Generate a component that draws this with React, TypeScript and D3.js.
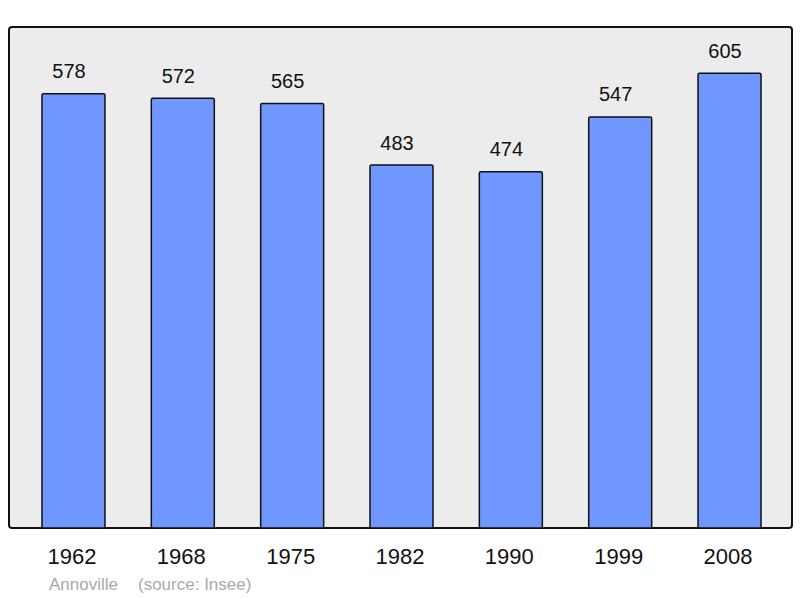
import { useEffect, useRef } from 'react';
import * as d3 from 'd3';

const years = ['1962', '1968', '1975', '1982', '1990', '1999', '2008'];
const population = [578, 572, 565, 483, 474, 547, 605];
const townName = 'Annoville';
const sourceNote = '(source: Insee)';

export default function App() {
  const svgRef = useRef<SVGSVGElement>(null);

  useEffect(() => {
    if (!svgRef.current) return;
    const svg = d3.select(svgRef.current);
    svg.selectAll('*').remove();

    const font = '"Liberation Sans", Arial, sans-serif';

    // panel background
    svg.append('rect')
      .attr('x', 9).attr('y', 27)
      .attr('width', 783).attr('height', 501)
      .attr('rx', 3)
      .attr('fill', '#ececec')
      .attr('stroke', '#111')
      .attr('stroke-width', 2);

    const x = d3.scaleBand<string>()
      .domain(years)
      .range([18.8, 784.2])
      .paddingInner(0.424)
      .paddingOuter(0.212);

    const y = d3.scaleLinear()
      .domain([0, 666.7])
      .range([528, 27]);

    const data = years.map((yr, i) => ({ yr, v: population[i] }));
    const mid = (yr: string) => (x(yr) || 0) + x.bandwidth() / 2;

    svg.selectAll('.bar')
      .data(data)
      .enter().append('rect')
      .attr('class', 'bar')
      .attr('x', d => x(d.yr) || 0)
      .attr('y', d => y(d.v))
      .attr('width', x.bandwidth())
      .attr('height', d => y(0) - y(d.v))
      .attr('rx', 1.5)
      .attr('fill', '#7096ff')
      .attr('stroke', '#111')
      .attr('stroke-width', 1.5);

    // value labels (sit slightly left of bar centre in the original)
    svg.selectAll('.val')
      .data(data)
      .enter().append('text')
      .attr('class', 'val')
      .attr('x', d => mid(d.yr) - 4.5)
      .attr('y', d => y(d.v) - 15.5)
      .attr('text-anchor', 'middle')
      .attr('font-family', font)
      .attr('font-size', 20)
      .attr('fill', '#111')
      .text(d => d.v);

    // year labels
    svg.selectAll('.yr')
      .data(data)
      .enter().append('text')
      .attr('class', 'yr')
      .attr('x', d => mid(d.yr) - 1.5)
      .attr('y', 564)
      .attr('text-anchor', 'middle')
      .attr('font-family', font)
      .attr('font-size', 22)
      .attr('fill', '#111')
      .text(d => d.yr);

    svg.append('text')
      .attr('x', 49).attr('y', 590)
      .attr('font-family', font)
      .attr('font-size', 17)
      .attr('fill', '#aaa')
      .text(townName);

    svg.append('text')
      .attr('x', 138).attr('y', 590)
      .attr('font-family', font)
      .attr('font-size', 17)
      .attr('fill', '#aaa')
      .text(sourceNote);
  }, []);

  return (
    <div style={{ position: 'absolute', left: 0, top: 0 }}>
      <svg ref={svgRef} width={800} height={598} style={{ display: 'block', background: '#fff' }} />
    </div>
  );
}
